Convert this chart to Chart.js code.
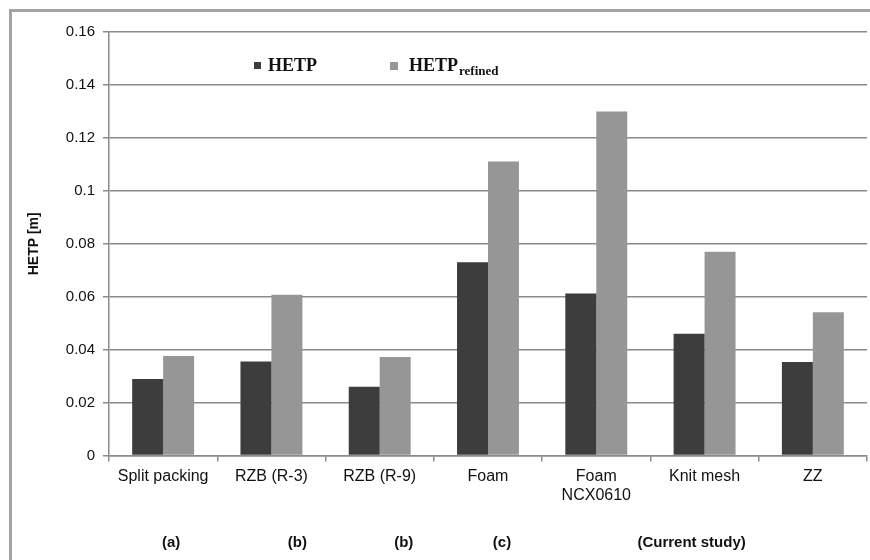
<!DOCTYPE html>
<html>
<head>
<meta charset="utf-8">
<script src="https://cdn.jsdelivr.net/npm/chart.js@4.4.1/dist/chart.umd.min.js"></script>
<style>
  html, body { margin: 0; padding: 0; background: #ffffff; }
  #wrap { width: 870px; height: 560px; position: relative; }
</style>
</head>
<body>
<div id="wrap"><canvas id="c" width="870" height="560"></canvas></div>
<script>
// Packing types compared
const categories = [
  'Split packing', 'RZB (R-3)', 'RZB (R-9)', 'Foam',
  ['Foam', 'NCX0610'], 'Knit mesh', 'ZZ'
];
// Height equivalent to a theoretical plate, metres
const hetp        = [0.0289, 0.0355, 0.0260, 0.0730, 0.0612, 0.0460, 0.0354];
const hetpRefined = [0.0376, 0.0608, 0.0372, 0.1111, 0.1300, 0.0770, 0.0541];
// Source notes printed under the category labels: [category index, horizontal nudge, text]
const sourceNotes = [
  [0, 8, '(a)'],
  [1, 26, '(b)'],
  [2, 24, '(b)'],
  [3, 14, '(c)'],
  [5, -13, '(Current study)']
];

const DARK = '#3d3d3d';
const LIGHT = '#969696';
const GRID = '#8a8a8a';

const framePlugin = {
  id: 'frame',
  beforeDraw(chart) {
    const ctx = chart.ctx;
    ctx.save();
    ctx.fillStyle = '#ffffff';
    ctx.fillRect(0, 0, chart.width, chart.height);
    ctx.strokeStyle = '#a3a3a3';
    ctx.lineWidth = 3;
    ctx.beginPath();
    ctx.moveTo(10.5, chart.height + 5);
    ctx.lineTo(10.5, 10.5);
    ctx.lineTo(chart.width + 5, 10.5);
    ctx.stroke();
    ctx.restore();
  }
};

const legendPlugin = {
  id: 'subLegend',
  afterDraw(chart) {
    const ctx = chart.ctx;
    const a = chart.chartArea;
    const y = a.top + 39;
    ctx.save();
    ctx.textBaseline = 'alphabetic';
    ctx.fillStyle = DARK;
    ctx.fillRect(a.left + 145, y - 9, 7, 7);
    ctx.fillStyle = LIGHT;
    ctx.fillRect(a.left + 281, y - 9, 8, 8);
    ctx.fillStyle = '#111111';
    ctx.font = 'bold 18px "Liberation Serif", "DejaVu Serif", serif';
    ctx.fillText('HETP', a.left + 159, y);
    ctx.fillText('HETP', a.left + 300, y);
    const w = ctx.measureText('HETP').width;
    ctx.font = 'bold 13px "Liberation Serif", "DejaVu Serif", serif';
    ctx.fillText('refined', a.left + 300 + w + 1, y + 4);
    ctx.restore();
  }
};

const notesPlugin = {
  id: 'sourceNotes',
  afterDraw(chart) {
    const ctx = chart.ctx;
    const xs = chart.scales.x;
    ctx.save();
    ctx.fillStyle = '#111111';
    ctx.font = 'bold 15px "Liberation Sans", Arial, sans-serif';
    ctx.textAlign = 'center';
    ctx.textBaseline = 'middle';
    sourceNotes.forEach(([i, dx, t]) => {
      ctx.fillText(t, xs.getPixelForValue(i) + dx, 543);
    });
    ctx.restore();
  }
};

new Chart(document.getElementById('c'), {
  type: 'bar',
  data: {
    labels: categories,
    datasets: [
      { label: 'HETP', data: hetp, backgroundColor: DARK, borderWidth: 0 },
      { label: 'HETP refined', data: hetpRefined, backgroundColor: LIGHT, borderWidth: 0 }
    ]
  },
  options: {
    responsive: false,
    animation: false,
    devicePixelRatio: 1,
    layout: { padding: { left: 26, right: 3, top: 32, bottom: 50 } },
    plugins: {
      legend: { display: false },
      tooltip: { enabled: false }
    },
    datasets: {
      bar: { categoryPercentage: 0.572, barPercentage: 1.0 }
    },
    scales: {
      x: {
        offset: true,
        grid: {
          offset: true,
          drawOnChartArea: false,
          drawTicks: true,
          tickLength: 6,
          color: GRID,
          lineWidth: 1.5
        },
        border: { color: GRID, width: 1.5 },
        ticks: {
          color: '#111111',
          font: { family: '"Liberation Sans", Arial, sans-serif', size: 16 },
          padding: 5,
          maxRotation: 0,
          autoSkip: false
        }
      },
      y: {
        min: 0,
        max: 0.16,
        afterFit(s) { s.width = 83; },
        grid: {
          color: GRID,
          lineWidth: 1.5,
          tickLength: 6
        },
        border: { color: GRID, width: 1.5 },
        ticks: {
          stepSize: 0.02,
          color: '#111111',
          font: { family: '"Liberation Sans", Arial, sans-serif', size: 15 },
          padding: 8,
          callback: (v) => String(Math.round(v * 100) / 100)
        },
        title: {
          display: true,
          text: 'HETP [m]',
          color: '#111111',
          font: { family: '"Liberation Sans", Arial, sans-serif', size: 14, weight: 'bold' },
          padding: { top: 0, bottom: 0 }
        }
      }
    }
  },
  plugins: [framePlugin, legendPlugin, notesPlugin]
});
</script>
</body>
</html>
